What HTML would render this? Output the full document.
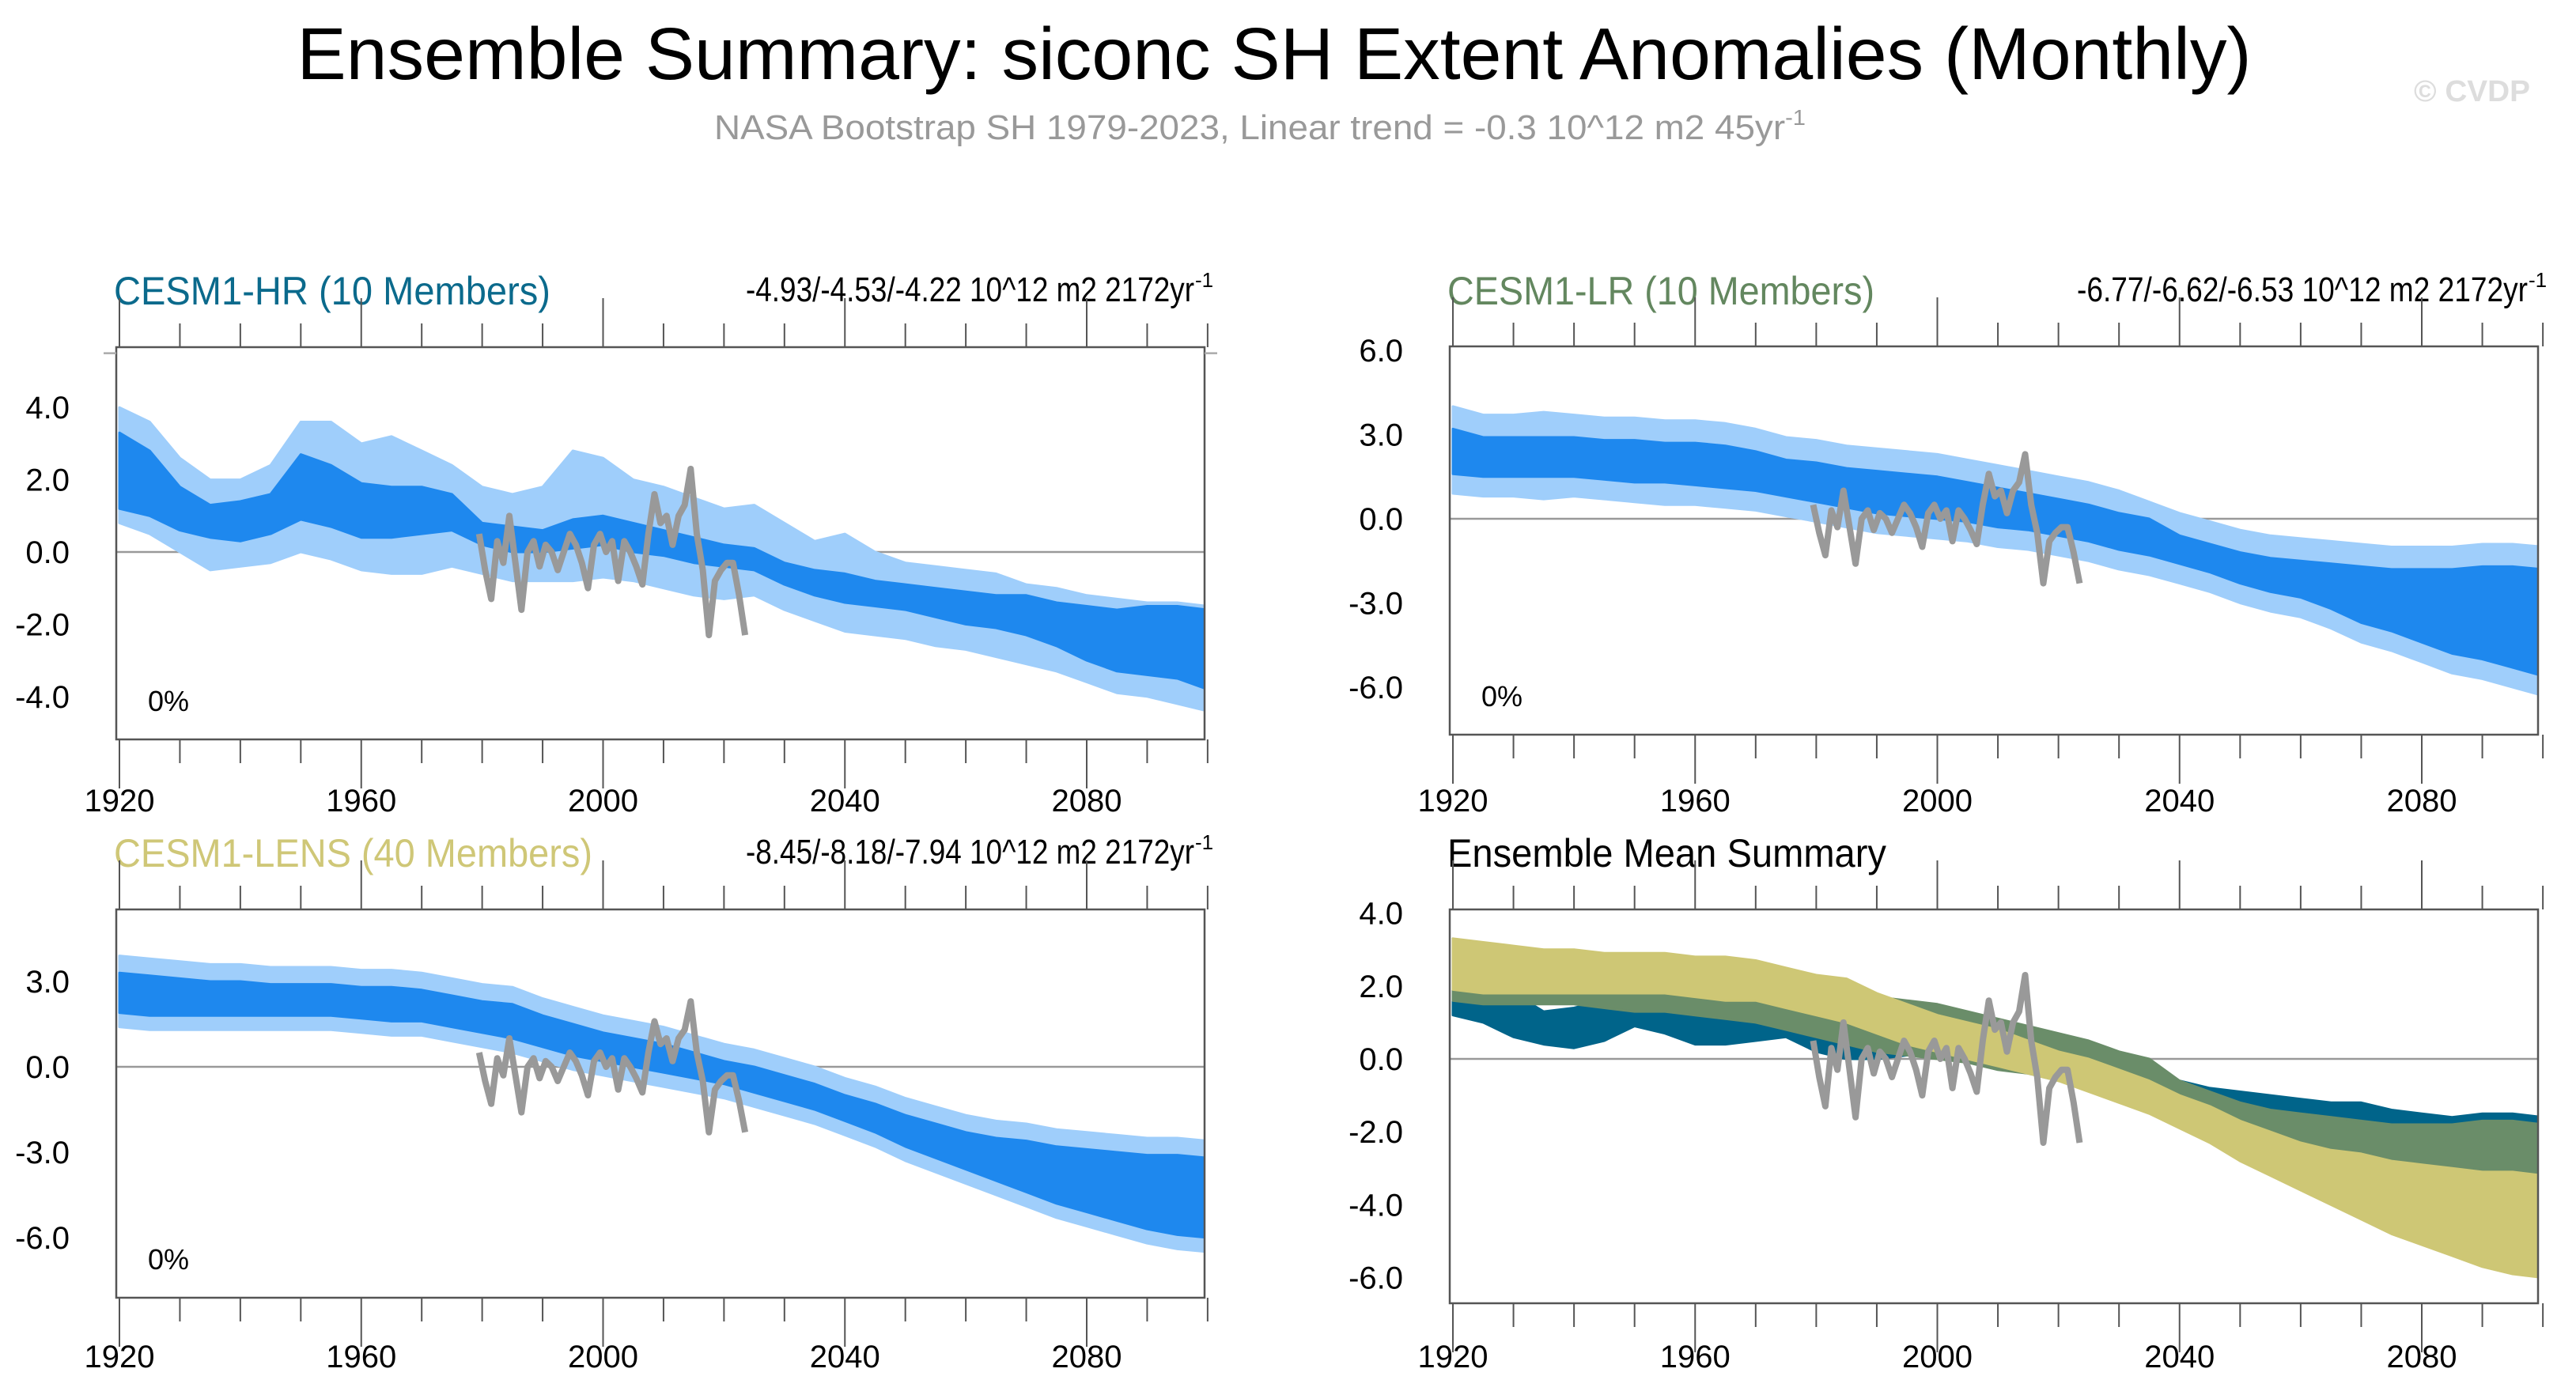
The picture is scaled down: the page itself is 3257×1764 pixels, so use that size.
<!DOCTYPE html>
<html><head><meta charset="utf-8"><style>
html,body{margin:0;padding:0;background:#fff}
svg{display:block;font-family:"Liberation Sans",sans-serif}
</style></head><body>
<svg id="fig" width="3257" height="1764" viewBox="0 0 3257 1764" xmlns="http://www.w3.org/2000/svg">
<text x="1611" y="100" font-size="93" text-anchor="middle" textLength="2471" lengthAdjust="spacingAndGlyphs">Ensemble Summary: siconc SH Extent Anomalies (Monthly)</text>
<text x="903" y="176" font-size="44" fill="#999" textLength="1380" lengthAdjust="spacingAndGlyphs">NASA Bootstrap SH 1979-2023, Linear trend = -0.3 10^12 m2 45yr<tspan font-size="28" dy="-18">-1</tspan></text>
<text x="3052" y="128" font-size="38" font-weight="bold" fill="#ddd" textLength="147" lengthAdjust="spacingAndGlyphs">© CVDP</text>
<g id="panels"></g>
</svg>
<script>
const years = [1920,1925,1930,1935,1940,1945,1950,1955,1960,1965,1970,1975,1980,1985,1990,1995,2000,2005,2010,2015,2020,2025,2030,2035,2040,2045,2050,2055,2060,2065,2070,2075,2080,2085,2090,2095,2100];
const hrHi = [3.3,2.8,1.8,1.3,1.4,1.6,2.7,2.4,1.9,1.8,1.8,1.6,0.8,0.7,0.6,0.9,1.0,0.8,0.6,0.4,0.2,0.1,-0.3,-0.5,-0.6,-0.8,-0.9,-1.0,-1.1,-1.2,-1.2,-1.4,-1.5,-1.6,-1.5,-1.5,-1.6];
const hrLo = [1.2,1.0,0.6,0.4,0.3,0.5,0.9,0.7,0.4,0.4,0.5,0.6,0.2,0.0,0.0,0.1,0.2,0.0,-0.1,-0.3,-0.4,-0.5,-0.9,-1.2,-1.4,-1.5,-1.6,-1.8,-2.0,-2.1,-2.3,-2.6,-3.0,-3.3,-3.4,-3.5,-3.8];
const hrSpHi = [4.0,3.6,2.6,2.0,2.0,2.4,3.6,3.6,3.0,3.2,2.8,2.4,1.8,1.6,1.8,2.8,2.6,2.0,1.8,1.5,1.2,1.3,0.8,0.3,0.5,0.0,-0.3,-0.4,-0.5,-0.6,-0.9,-1.0,-1.2,-1.3,-1.4,-1.4,-1.5];
const hrSpLo = [0.8,0.5,0.0,-0.5,-0.4,-0.3,0.0,-0.2,-0.5,-0.6,-0.6,-0.4,-0.6,-0.8,-0.8,-0.8,-0.7,-0.8,-1.0,-1.2,-1.3,-1.2,-1.6,-1.9,-2.2,-2.3,-2.4,-2.6,-2.7,-2.9,-3.1,-3.3,-3.6,-3.9,-4.0,-4.2,-4.4];
const lrHi = [3.2,2.9,2.9,2.9,2.9,2.8,2.8,2.7,2.7,2.6,2.4,2.1,2.0,1.8,1.7,1.6,1.5,1.3,1.1,0.9,0.7,0.5,0.2,0.0,-0.6,-0.9,-1.2,-1.4,-1.5,-1.6,-1.7,-1.8,-1.8,-1.8,-1.7,-1.7,-1.8];
const lrLo = [1.6,1.5,1.5,1.5,1.5,1.4,1.3,1.3,1.2,1.1,1.0,0.8,0.6,0.4,0.2,0.1,0.0,-0.1,-0.3,-0.4,-0.6,-0.8,-1.1,-1.3,-1.6,-1.9,-2.3,-2.6,-2.8,-3.2,-3.7,-4.0,-4.4,-4.8,-5.0,-5.3,-5.6];
const lrSpHi = [4.0,3.7,3.7,3.8,3.7,3.6,3.6,3.5,3.5,3.4,3.2,2.9,2.8,2.6,2.5,2.4,2.3,2.1,1.9,1.7,1.5,1.3,1.0,0.6,0.2,-0.1,-0.4,-0.6,-0.7,-0.8,-0.9,-1.0,-1.0,-1.0,-0.9,-0.9,-1.0];
const lrSpLo = [0.9,0.8,0.8,0.7,0.8,0.7,0.6,0.5,0.5,0.4,0.3,0.1,-0.1,-0.3,-0.5,-0.6,-0.7,-0.8,-1.0,-1.1,-1.3,-1.5,-1.8,-2.0,-2.3,-2.6,-3.0,-3.3,-3.5,-3.9,-4.4,-4.7,-5.1,-5.5,-5.7,-6.0,-6.3];
const lensHi = [3.3,3.2,3.1,3.0,3.0,2.9,2.9,2.9,2.8,2.8,2.7,2.5,2.3,2.2,1.8,1.5,1.2,1.0,0.8,0.5,0.2,0.0,-0.3,-0.6,-1.0,-1.3,-1.7,-2.0,-2.3,-2.5,-2.6,-2.8,-2.9,-3.0,-3.1,-3.1,-3.2];
const lensLo = [1.9,1.8,1.8,1.8,1.8,1.8,1.8,1.8,1.7,1.6,1.6,1.4,1.2,1.0,0.7,0.4,0.2,0.0,-0.2,-0.4,-0.6,-0.9,-1.2,-1.5,-1.9,-2.3,-2.8,-3.2,-3.6,-4.0,-4.4,-4.8,-5.1,-5.4,-5.7,-5.9,-6.0];
const lensSpHi = [3.9,3.8,3.7,3.6,3.6,3.5,3.5,3.5,3.4,3.4,3.3,3.1,2.9,2.8,2.4,2.1,1.8,1.6,1.4,1.1,0.8,0.6,0.3,0.0,-0.4,-0.7,-1.1,-1.4,-1.7,-1.9,-2.0,-2.2,-2.3,-2.4,-2.5,-2.5,-2.6];
const lensSpLo = [1.4,1.3,1.3,1.3,1.3,1.3,1.3,1.3,1.2,1.1,1.1,0.9,0.7,0.5,0.2,-0.1,-0.3,-0.5,-0.7,-0.9,-1.1,-1.4,-1.7,-2.0,-2.4,-2.8,-3.3,-3.7,-4.1,-4.5,-4.9,-5.3,-5.6,-5.9,-6.2,-6.4,-6.5];
const obsYears = [1979,1980,1981,1982,1983,1984,1985,1986,1987,1988,1989,1990,1991,1992,1993,1994,1995,1996,1997,1998,1999,2000,2001,2002,2003,2004,2005,2006,2007,2008,2009,2010,2011,2012,2013,2014,2015,2016,2017,2018,2019,2020,2021,2022,2023];
const obsVals = [0.5,-0.5,-1.3,0.3,-0.3,1.0,-0.3,-1.6,0.0,0.3,-0.4,0.2,0.0,-0.5,0.0,0.5,0.2,-0.3,-1.0,0.2,0.5,0.0,0.3,-0.8,0.3,0.0,-0.4,-0.9,0.5,1.6,0.8,1.0,0.2,1.0,1.3,2.3,0.5,-0.5,-2.3,-0.8,-0.5,-0.3,-0.3,-1.2,-2.3];
const xTickYears = [1920,1960,2000,2040,2080];

const NS = "http://www.w3.org/2000/svg";
const root = document.getElementById('panels');
function mk(tag, attrs, parent){ const e=document.createElementNS(NS,tag); for(const k in attrs) e.setAttribute(k,attrs[k]); (parent||root).appendChild(e); return e; }

const panels = [
 {key:'hr', fx0:147,fx1:1523,fy0:439,fy1:935,x0:151,xs:305.75/40,y0:698,ppu:45.7,ticks:[-4,-2,0,2,4],minor:0.5,labY:1026,
  title:'CESM1-HR (10 Members)',tcol:'#0b6a8c',stat:'-4.93/-4.53/-4.22 10^12 m2 2172yr',statX:1510,titleW:552,statW:567,tY:385,
  bands:[[hrSpHi,hrSpLo,'#9fcefb'],[hrHi,hrLo,'#1e88ee']]},
 {key:'lr', fx0:1833,fx1:3209,fy0:438,fy1:929,x0:1837,xs:306.25/40,y0:656,ppu:35.5,ticks:[-6,-3,0,3,6],minor:1,labY:1026,
  title:'CESM1-LR (10 Members)',tcol:'#63875f',stat:'-6.77/-6.62/-6.53 10^12 m2 2172yr',statX:3196,titleW:540,statW:570,tY:385,
  bands:[[lrSpHi,lrSpLo,'#9fcefb'],[lrHi,lrLo,'#1e88ee']]},
 {key:'lens', fx0:147,fx1:1523,fy0:1150,fy1:1641,x0:151,xs:305.75/40,y0:1349,ppu:36,ticks:[-6,-3,0,3],minor:1,labY:1729,
  title:'CESM1-LENS (40 Members)',tcol:'#cfc777',stat:'-8.45/-8.18/-7.94 10^12 m2 2172yr',statX:1510,titleW:605,statW:567,tY:1096,
  bands:[[lensSpHi,lensSpLo,'#9fcefb'],[lensHi,lensLo,'#1e88ee']]},
 {key:'mean', fx0:1833,fx1:3209,fy0:1150,fy1:1648,x0:1837,xs:306.25/40,y0:1339,ppu:46.1,ticks:[-6,-4,-2,0,2,4],minor:0.5,labY:1729,
  title:'Ensemble Mean Summary',tcol:'#000',stat:null,titleW:555,tY:1096,
  bands:[[hrHi,hrLo,'#00648a'],[lrHi,lrLo,'#6a8d69'],[lensHi,lensLo,'#cec775']]}
];

panels.forEach(p=>{
  const g = mk('g',{});
  
  
  const X = y => p.x0 + (y-1920)*p.xs;
  const Y = v => p.y0 - v*p.ppu;
  const clipId='clip-'+p.key;
  const cp = mk('clipPath',{id:clipId},g); mk('rect',{x:p.fx0,y:p.fy0,width:p.fx1-p.fx0,height:p.fy1-p.fy0},cp);
  const t = mk('text',{x:p.fx0-3,y:p.tY,'font-size':50,fill:p.tcol,textLength:p.titleW,lengthAdjust:'spacingAndGlyphs'},g);
  t.textContent=p.title;
  
  
  if(p.stat){
    const s = mk('text',{x:p.statX-p.statW,y:p.tY-4,'font-size':44,textLength:p.statW,lengthAdjust:'spacingAndGlyphs'},g);
    s.textContent=p.stat;
    
    
    const sup = mk('text',{x:p.statX+1,y:p.tY-22,'font-size':26},g);
    sup.textContent='-1';
    
    
  }
  const z = mk('line',{x1:p.fx0,x2:p.fx1,y1:Y(0),y2:Y(0),stroke:'#999','stroke-width':2.5},g);
  
  
  const dg = mk('g',{'clip-path':'url(#'+clipId+')'},g);
  p.bands.forEach((b,i)=>{
    let pts=[];
    years.forEach((yr,j)=>pts.push(X(yr).toFixed(1)+','+Y(b[0][j]).toFixed(1)));
    for(let j=years.length-1;j>=0;j--) pts.push(X(years[j]).toFixed(1)+','+Y(b[1][j]).toFixed(1));
    const pg = mk('polygon',{points:pts.join(' '),fill:b[2],stroke:b[2],'stroke-width':3,'stroke-linejoin':'round'},dg);
    
    
  });
  const op = obsYears.map((yr,j)=>X(yr+0.5).toFixed(1)+','+Y(obsVals[j]).toFixed(1)).join(' ');
  const ol = mk('polyline',{points:op,fill:'none',stroke:'#999','stroke-width':8,'stroke-linejoin':'round'},dg);
  
  
  const fr = mk('rect',{x:p.fx0,y:p.fy0,width:p.fx1-p.fx0,height:p.fy1-p.fy0,fill:'none',stroke:'#555','stroke-width':2.5},g);
  
  
  for(let yr=1920; yr<=2100; yr+=10){
    const x=X(yr); const major=(yr-1920)%40===0; const L=major?62:30;
    mk('line',{x1:x,x2:x,y1:p.fy0,y2:p.fy0-L,stroke:'#555','stroke-width':2},g);
    mk('line',{x1:x,x2:x,y1:p.fy1,y2:p.fy1+L,stroke:'#555','stroke-width':2},g);
  }
  xTickYears.forEach(yr=>{
    const tl = mk('text',{x:X(yr),y:p.labY,'font-size':40,'text-anchor':'middle'},g);
    tl.textContent=yr;
    
    
  });
  const vmin=(p.y0-p.fy1)/-p.ppu, vmax=(p.y0-p.fy0)/p.ppu;
  for(let v=Math.ceil(vmin/p.minor)*p.minor; v<=vmax+1e-6; v+=p.minor){
    const isMaj = p.ticks.some(t=>Math.abs(t-v)<1e-6);
    const y=Y(v); if(Math.abs(y-p.fy0)<4||Math.abs(y-p.fy1)<4) continue;
    const L=isMaj?31:16; const col=isMaj?'#444':'#aaa';
    mk('line',{x1:p.fx0,x2:p.fx0-L,y1:y,y2:y,stroke:col,'stroke-width':2.5},g);
    mk('line',{x1:p.fx1,x2:p.fx1+L,y1:y,y2:y,stroke:col,'stroke-width':2.5},g);
  }
  p.ticks.forEach(v=>{
    const tl = mk('text',{x:p.fx0-59,y:Y(v)+14,'font-size':40,'text-anchor':'end'},g);
    tl.textContent=v.toFixed(1);
    
    
  });
  if(p.key!=='mean'){
    const pc = mk('text',{x:p.fx0+40,y:p.fy1-36,'font-size':36},g);
    pc.textContent='0%';
    
    
  }
});
</script>
</body></html>
